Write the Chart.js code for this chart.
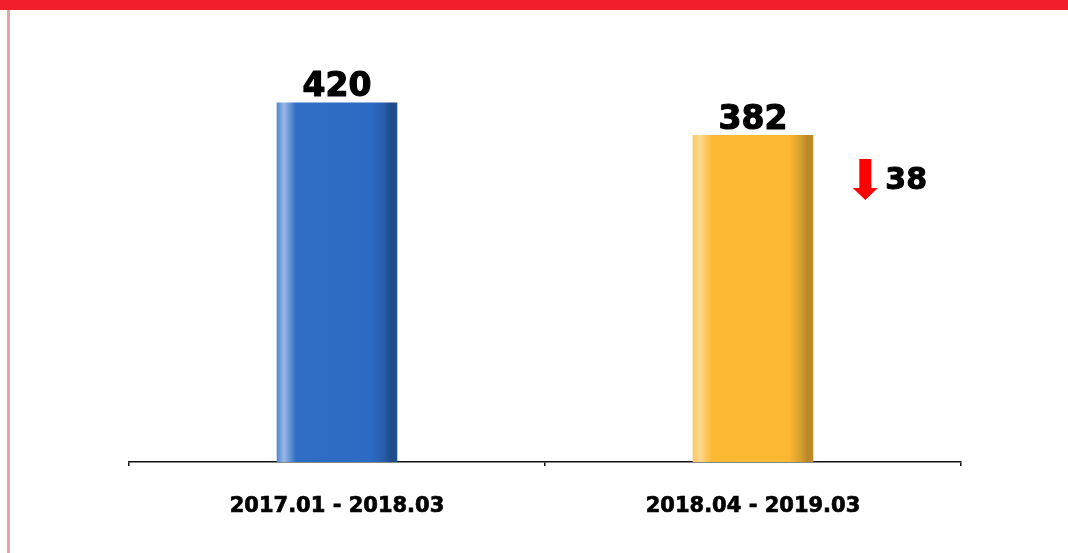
<!DOCTYPE html>
<html>
<head>
<meta charset="utf-8">
<script src="https://cdn.jsdelivr.net/npm/chart.js@4/dist/chart.umd.min.js"></script>
<style>
  html, body { margin: 0; padding: 0; background: #ffffff; }
  canvas { display: block; }
</style>
</head>
<body>
<canvas id="c" width="1068" height="553"></canvas>
<script>
// ---- data ----
const categories = ['2017.01 - 2018.03', '2018.04 - 2019.03'];
const values = [420, 382];
const barGradients = [
  [[0, '#4F86D0'], [0.06, '#97B8E5'], [0.16, '#2E6DC4'], [0.78, '#2B6BC3'], [0.88, '#285FAE'], [0.95, '#1E4A86'], [1, '#23508F']],
  [[0, '#FCC659'], [0.06, '#FFD890'], [0.16, '#FDB934'], [0.80, '#FCB733'], [0.90, '#D49D2E'], [0.95, '#B8862A'], [1, '#C08E2D']]
];

const FONT = '"DejaVu Sans", Verdana, sans-serif';

function barGradient(ctx) {
  const chart = ctx.chart;
  const i = ctx.dataIndex;
  const stops = barGradients[i % barGradients.length];
  const xs = chart.scales && chart.scales.x;
  if (!chart.chartArea || !xs) return stops[2][1];
  const cx = xs.getPixelForValue(i);
  const catW = xs.width / categories.length;
  const w = catW * 0.29;
  const g = chart.ctx.createLinearGradient(cx - w / 2, 0, cx + w / 2, 0);
  stops.forEach(s => g.addColorStop(s[0], s[1]));
  return g;
}

function boldText(c, txt, x, y, sw) {
  c.lineWidth = sw;
  c.strokeStyle = c.fillStyle;
  c.lineJoin = 'round';
  c.strokeText(txt, x, y);
  c.fillText(txt, x, y);
}

const decorPlugin = {
  id: 'decor',
  beforeDraw(chart) {
    const c = chart.ctx;
    c.save();
    c.fillStyle = '#F21E2B';
    c.fillRect(0, 0, chart.width, 10);
    c.fillStyle = '#E0A8AC';
    c.fillRect(7, 10, 3, chart.height - 10);
    c.restore();
  },
  afterDatasetsDraw(chart) {
    const c = chart.ctx;
    const meta = chart.getDatasetMeta(0);
    c.save();
    c.fillStyle = '#000000';
    c.textAlign = 'center';
    c.textBaseline = 'alphabetic';
    c.font = 'bold 33px ' + FONT;
    meta.data.forEach((bar, i) => {
      boldText(c, String(values[i]), bar.x, bar.y - 6, 1.2);
    });
    // change indicator next to the last bar
    const last = meta.data[meta.data.length - 1];
    const diff = values[values.length - 2] - values[values.length - 1];
    const right = last.x + last.width / 2;
    const top = last.y;
    const ax = right + 52;           // arrow centre x
    c.fillStyle = diff >= 0 ? '#FF0000' : '#00A000';
    c.beginPath();
    c.moveTo(ax - 6, top + 24);
    c.lineTo(ax + 6, top + 24);
    c.lineTo(ax + 6, top + 53);
    c.lineTo(ax + 12.5, top + 53);
    c.lineTo(ax, top + 65);
    c.lineTo(ax - 12.5, top + 53);
    c.lineTo(ax - 6, top + 53);
    c.closePath();
    c.fill();
    c.fillStyle = '#000000';
    c.textAlign = 'left';
    c.font = 'bold 30px ' + FONT;
    boldText(c, String(Math.abs(diff)), ax + 20, top + 54, 1.0);
    c.restore();
  }
};

new Chart(document.getElementById('c'), {
  type: 'bar',
  data: {
    labels: categories,
    datasets: [{
      data: values,
      backgroundColor: barGradient,
      borderWidth: 0,
      categoryPercentage: 1.0,
      barPercentage: 0.29
    }]
  },
  options: {
    responsive: false,
    animation: false,
    events: [],
    layout: { padding: { left: 129, right: 107, top: 34, bottom: 0 } },
    plugins: { legend: { display: false }, tooltip: { enabled: false } },
    scales: {
      x: {
        afterFit(scale) { scale.height = 91; },
        grid: { drawOnChartArea: false, drawTicks: true, tickLength: 4, color: '#111111', lineWidth: 1.5, offset: true },
        border: { display: true, color: '#111111', width: 1.5 },
        ticks: {
          color: '#000000',
          font: { family: FONT, size: 21, weight: 'bold' },
          padding: 28,
          textStrokeColor: '#000000',
          textStrokeWidth: 0.7
        }
      },
      y: {
        display: false,
        min: 0,
        max: 500
      }
    }
  },
  plugins: [decorPlugin]
});
</script>
</body>
</html>
